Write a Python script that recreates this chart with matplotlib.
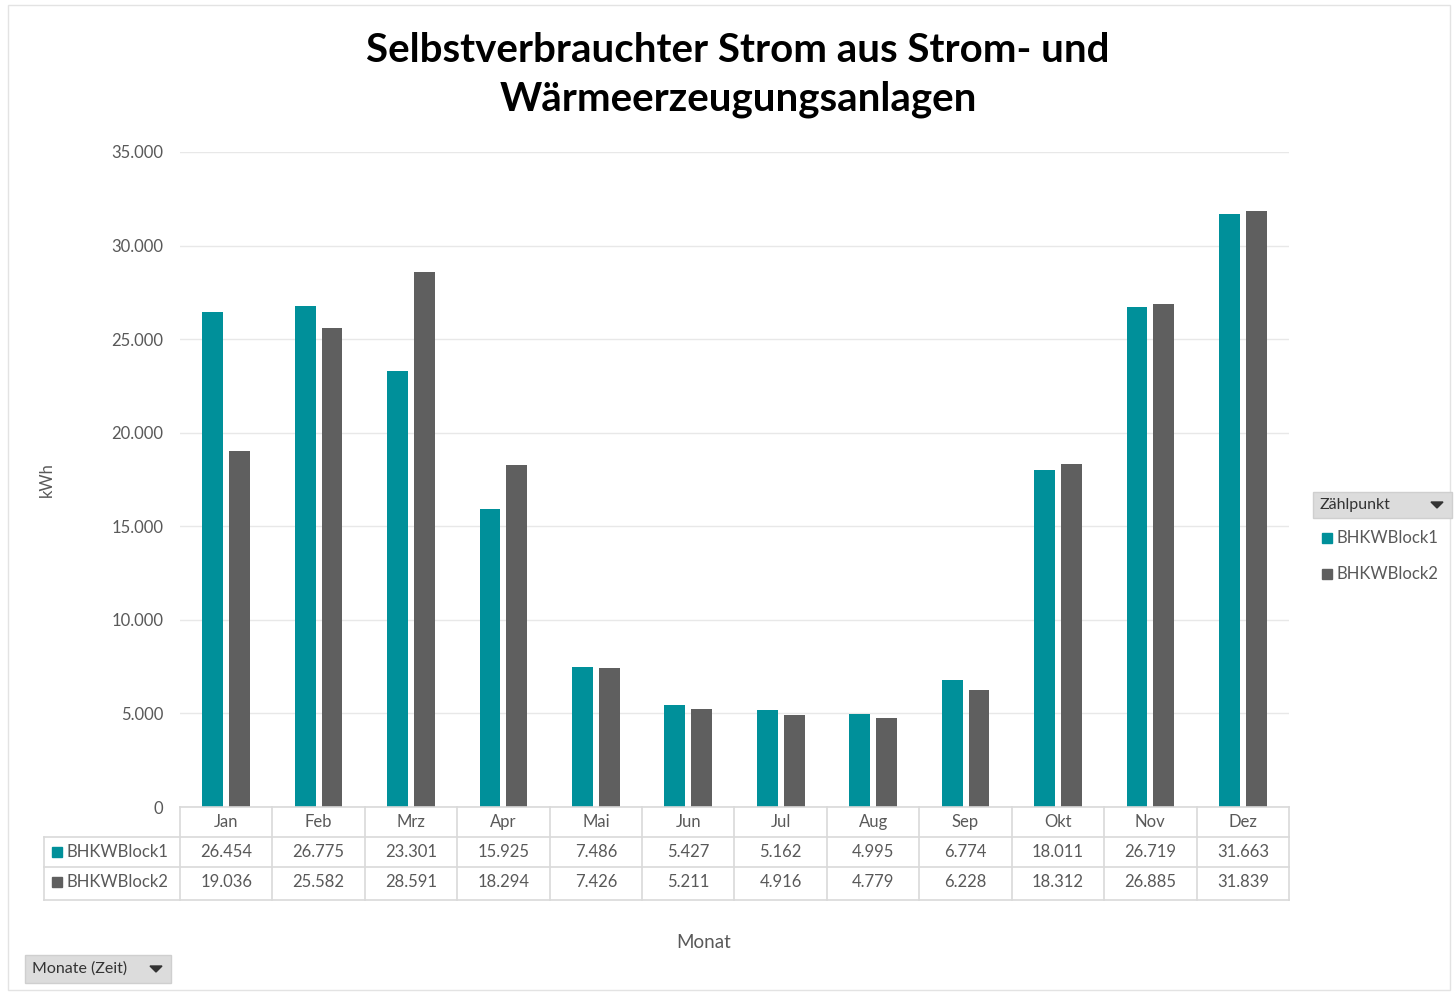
import matplotlib
matplotlib.use("Agg")
import matplotlib.pyplot as plt
import numpy as np
from matplotlib.patches import Rectangle, Polygon
from matplotlib.lines import Line2D

plt.rcParams['font.family'] = ['Lato', 'DejaVu Sans']

months = ["Jan", "Feb", "Mrz", "Apr", "Mai", "Jun", "Jul", "Aug", "Sep", "Okt", "Nov", "Dez"]
series_names = ["BHKWBlock1", "BHKWBlock2"]
block1 = [26454, 26775, 23301, 15925, 7486, 5427, 5162, 4995, 6774, 18011, 26719, 31663]
block2 = [19036, 25582, 28591, 18294, 7426, 5211, 4916, 4779, 6228, 18312, 26885, 31839]
yticks = [0, 5000, 10000, 15000, 20000, 25000, 30000, 35000]
title = "Selbstverbrauchter Strom aus Strom- und\nWärmeerzeugungsanlagen"

colors = ["#00909A", "#5F5F5F"]
txt = "#595959"
grid_c = "#d9d9d9"

def fmt(v):
    return f"{v:,}".replace(",", ".")

W, H = 1454, 993
fig = plt.figure(figsize=(W / 100, H / 100), dpi=100)

def fx(px):
    return px / W

def fy(py):
    return 1 - py / H

# outer frame
fig.add_artist(Rectangle((fx(8), fy(990)), fx(1450) - fx(8), fy(5) - fy(990),
                         transform=fig.transFigure, fill=False, ec="#e3e3e3", lw=1))

AX_L, AX_R, AX_T, AX_B = 180, 1289, 152, 807
ax = fig.add_axes([fx(AX_L), fy(AX_B), fx(AX_R) - fx(AX_L), fy(AX_T) - fy(AX_B)])
x = np.arange(len(months))
bw = 0.225
off = 0.145
ax.bar(x - off, block1, bw, color=colors[0], zorder=3)
ax.bar(x + off, block2, bw, color=colors[1], zorder=3)
ax.set_xlim(-0.5, len(months) - 0.5)
ax.set_ylim(0, 35000)
ax.set_yticks(yticks)
ax.set_yticklabels([fmt(v) for v in yticks], color=txt, fontsize=12)
ax.tick_params(axis="y", length=0, pad=12)
ax.set_xticks([])
ax.grid(axis="y", color="#e8e8e8", lw=1, zorder=0)
for s in ax.spines.values():
    s.set_visible(False)

# ---- data table (drawn manually below the axes) ----
def line_px(x0, y0, x1, y1):
    fig.add_artist(Line2D([fx(x0), fx(x1)], [fy(y0), fy(y1)], transform=fig.transFigure,
                          color=grid_c, lw=1.2))

TBL_L = 44
rows_y = [807, 837, 867, 900]
colw = (AX_R - AX_L) / len(months)
line_px(AX_L, 807, AX_R, 807)
for yy in rows_y[1:]:
    line_px(TBL_L, yy, AX_R, yy)
line_px(TBL_L, 837, TBL_L, 900)
for i in range(len(months) + 1):
    line_px(AX_L + i * colw, 807, AX_L + i * colw, 900)

xt = ax.get_xaxis_transform()
def ya(py):
    return (AX_B - py) / (AX_B - AX_T)

for i, m in enumerate(months):
    ax.text(i, ya(822), m, transform=xt, ha="center", va="center", fontsize=12,
            color=txt, clip_on=False)
for r, (vals, yy) in enumerate(zip([block1, block2], [852, 882])):
    for i, v in enumerate(vals):
        ax.text(i, ya(yy), fmt(v), transform=xt, ha="center", va="center",
                fontsize=12, color=txt, clip_on=False)

for yy, col, name in zip([852, 882], colors, series_names):
    fig.add_artist(Rectangle((fx(52), fy(yy + 5)), fx(10), fy(0) - fy(10),
                             transform=fig.transFigure, color=col))
    fig.text(fx(66), fy(yy), name, ha="left", va="center", fontsize=12, color=txt)

# title
fig.text(fx(738), fy(75), title, ha="center", va="center", fontsize=29,
         fontweight="bold", color="black", linespacing=1.4)

# axis labels
fig.text(fx(47), fy(480), "kWh", rotation=90, ha="center", va="center",
         fontsize=12, color=txt)
fig.text(fx(704), fy(942), "Monat", ha="center", va="center", fontsize=13.5, color=txt)

# pivot field buttons
def button(x0, y0, x1, y1, label):
    fig.add_artist(Rectangle((fx(x0), fy(y1)), fx(x1) - fx(x0), fy(y0) - fy(y1),
                             transform=fig.transFigure, fc="#dcdcdc", ec="#cfcfcf", lw=1))
    fig.text(fx(x0 + 7), fy((y0 + y1) / 2), label, ha="left", va="center",
             fontsize=11.5, color="#333333")
    cx, cy = x1 - 15, (y0 + y1) / 2
    fig.add_artist(Polygon([(fx(cx - 6), fy(cy - 3)), (fx(cx + 6), fy(cy - 3)), (fx(cx), fy(cy + 3))],
                           closed=True, transform=fig.transFigure, color="#333333"))

button(1313, 492, 1452, 518, "Zählpunkt")
button(25, 955, 171, 983, "Monate (Zeit)")

# legend entries
for yy, col, name in zip([538, 574], colors, series_names):
    fig.add_artist(Rectangle((fx(1322), fy(yy + 5)), fx(10), fy(0) - fy(10),
                             transform=fig.transFigure, color=col))
    fig.text(fx(1336), fy(yy), name, ha="left", va="center", fontsize=12, color=txt)

fig.savefig("out.png", dpi=100, facecolor="white")
